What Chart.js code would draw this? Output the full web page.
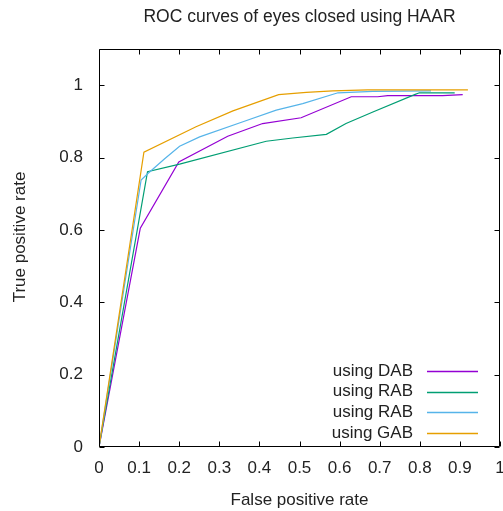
<!DOCTYPE html>
<html>
<head>
<meta charset="utf-8">
<script src="https://cdn.jsdelivr.net/npm/chart.js@4.4.1/dist/chart.umd.min.js"></script>
<style>
  html, body { margin: 0; padding: 0; background: #fff; }
  #wrap { width: 503px; height: 511px; }
</style>
</head>
<body>
<div id="wrap"><canvas id="roc"></canvas></div>
<script>
// ROC data
var dabFpr = [0, 0.103, 0.199, 0.321, 0.408, 0.504, 0.629, 0.695, 0.720, 0.857, 0.907];
var dabTpr = [0, 0.605, 0.788, 0.859, 0.894, 0.910, 0.968, 0.968, 0.971, 0.971, 0.974];
var rabFpr = [0, 0.121, 0.201, 0.417, 0.483, 0.567, 0.616, 0.683, 0.787, 0.799, 0.887];
var rabTpr = [0, 0.761, 0.782, 0.845, 0.854, 0.864, 0.894, 0.926, 0.974, 0.979, 0.979];
var rab2Fpr = [0, 0.105, 0.122, 0.163, 0.201, 0.251, 0.359, 0.442, 0.508, 0.596, 0.683, 0.828];
var rab2Tpr = [0, 0.738, 0.756, 0.796, 0.831, 0.857, 0.899, 0.931, 0.949, 0.979, 0.983, 0.984];
var gabFpr = [0, 0.112, 0.242, 0.334, 0.448, 0.517, 0.583, 0.670, 0.920];
var gabTpr = [0, 0.815, 0.885, 0.929, 0.974, 0.980, 0.984, 0.987, 0.987];

var seriesNames = ['using DAB', 'using RAB', 'using RAB', 'using GAB'];
var xTicks = [0, 0.1, 0.2, 0.3, 0.4, 0.5, 0.6, 0.7, 0.8, 0.9, 1];
var yTicks = [0, 0.2, 0.4, 0.6, 0.8, 1];

var colors = ['#9400d3', '#009e73', '#56b4e9', '#e69f00'];
var txt = '#222';
var fnt = { family: '"Liberation Sans", Arial, sans-serif', size: 17 };

function pts(xs, ys) {
  return xs.map(function (x, i) { return { x: x, y: ys[i] }; });
}

var allX = [dabFpr, rabFpr, rab2Fpr, gabFpr];
var allY = [dabTpr, rabTpr, rab2Tpr, gabTpr];
var datasets = allX.map(function (xs, i) {
  return {
    label: seriesNames[i],
    data: pts(xs, allY[i]),
    borderColor: colors[i],
    backgroundColor: colors[i],
    borderWidth: 1.2,
    pointRadius: 0,
    tension: 0,
    order: 3 - i
  };
});

// gnuplot style frame: box, inward ticks on all four sides, legend inside
var framePlugin = {
  id: 'frame',
  afterDatasetsDraw: function (chart) {
    var c = chart.ctx, a = chart.chartArea;
    var xs = chart.scales.x, ys = chart.scales.y;
    var L = Math.round(a.left) + 0.5, R = Math.round(a.right) - 0.5;
    var T = Math.round(a.top) + 0.5, B = Math.round(a.bottom) - 0.5;
    c.save();
    c.strokeStyle = '#000';
    c.lineWidth = 1;
    c.beginPath();
    c.rect(L, T, R - L, B - T);
    xTicks.forEach(function (v) {
      var px = Math.round(xs.getPixelForValue(v)) + 0.5;
      c.moveTo(px, B); c.lineTo(px, B - 5);
      c.moveTo(px, T); c.lineTo(px, T + 5);
    });
    yTicks.forEach(function (v) {
      var py = Math.round(ys.getPixelForValue(v)) + 0.5;
      c.moveTo(L, py); c.lineTo(L + 5, py);
      c.moveTo(R, py); c.lineTo(R - 5, py);
    });
    c.stroke();

    // y axis title
    c.font = fnt.size + 'px ' + fnt.family;
    c.fillStyle = txt;
    c.textAlign = 'center';
    c.textBaseline = 'middle';
    c.save();
    c.translate(20, (a.top + a.bottom) / 2 - 11);
    c.rotate(-Math.PI / 2);
    c.fillText('True positive rate', 0, 0);
    c.restore();

    // legend
    c.textAlign = 'right';
    chart.data.datasets.forEach(function (ds, i) {
      var y = a.bottom - 76 + i * 20.7;
      c.fillStyle = txt;
      c.fillText(ds.label, a.right - 87, y);
      c.strokeStyle = ds.borderColor;
      c.lineWidth = 1.5;
      c.beginPath();
      c.moveTo(a.right - 73, Math.round(y) + 0.5);
      c.lineTo(a.right - 22, Math.round(y) + 0.5);
      c.stroke();
    });
    c.restore();
  }
};

function noPad(s) {
  s.paddingLeft = 0; s.paddingRight = 0; s.paddingTop = 0; s.paddingBottom = 0;
}

Chart.defaults.font.family = fnt.family;
Chart.defaults.font.size = fnt.size;
Chart.defaults.color = txt;

new Chart(document.getElementById('roc'), {
  type: 'line',
  data: { datasets: datasets },
  plugins: [framePlugin],
  options: {
    responsive: true,
    maintainAspectRatio: false,
    animation: false,
    layout: { padding: { left: 0, right: 3, top: 0, bottom: 0 } },
    plugins: {
      legend: { display: false },
      tooltip: { enabled: false },
      title: {
        display: true,
        text: 'ROC curves of eyes closed using HAAR',
        fullSize: false,
        font: { size: 17.5, weight: 'normal' },
        color: txt,
        padding: { top: 7, bottom: 21 }
      }
    },
    scales: {
      x: {
        type: 'linear',
        min: 0,
        max: 1,
        afterBuildTicks: function (s) { s.ticks = xTicks.map(function (v) { return { value: v }; }); },
        afterFit: function (s) { s.height = 64; noPad(s); },
        grid: { display: false, drawTicks: false },
        border: { display: false },
        ticks: { padding: 11, maxRotation: 0, autoSkip: false, callback: function (v) { return String(v); } },
        title: { display: true, text: 'False positive rate', padding: { top: 0, bottom: 0 } }
      },
      y: {
        type: 'linear',
        min: 0,
        max: 1.1,
        afterBuildTicks: function (s) { s.ticks = yTicks.map(function (v) { return { value: v }; }); },
        afterFit: function (s) { s.width = 99; noPad(s); },
        grid: { display: false, drawTicks: false },
        border: { display: false },
        ticks: { padding: 16, callback: function (v) { return String(v); } },
        title: { display: false }
      }
    }
  }
});
</script>
</body>
</html>
